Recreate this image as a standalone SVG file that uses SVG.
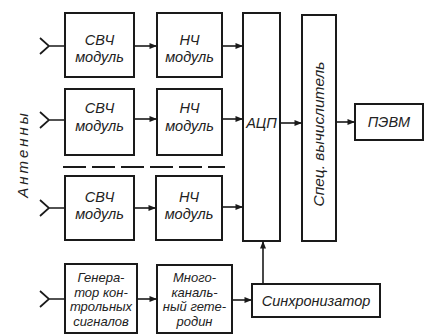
<svg xmlns="http://www.w3.org/2000/svg" width="439" height="335" viewBox="0 0 439 335">
<style>
.box{fill:none;stroke:#1a1a1a;stroke-width:2}
.t{font-family:"Liberation Sans",Arial,sans-serif;font-style:italic;fill:#222;text-anchor:middle}
.m{font-size:14.5px}
.s{font-size:13px}
.c{fill:none;stroke:#1a1a1a;stroke-width:1.7}
.ar{fill:none;stroke:#1a1a1a;stroke-width:1.6;marker-end:url(#ah)}
</style>
<defs>
<marker id="ah" viewBox="0 0 10 8" refX="10" refY="4" markerWidth="8" markerHeight="6" markerUnits="userSpaceOnUse" orient="auto">
<path d="M0,0 L10,4 L0,8 Z" fill="#1a1a1a"/>
</marker>
</defs>
<rect width="439" height="335" fill="#fff"/>
<g id="antennas">
<path class="c" d="M40,38 L49,46 L40,54 M49,46 H65"/>
<path class="c" d="M40,112 L49,120 L40,128 M49,120 H65"/>
<path class="c" d="M40,200 L49,208 L40,216 M49,208 H65"/>
<path class="c" d="M40,291 L49,299 L40,307 M49,299 H65"/>
<text class="t" font-size="15" letter-spacing="3" transform="translate(28,154) rotate(-90)">Антенны</text>
</g>
<g id="svch1"><rect class="box" x="65" y="13" width="69" height="64"/><text class="t m" x="99.5" y="45">СВЧ</text><text class="t m" x="99.5" y="62">модуль</text></g>
<g id="nch1"><rect class="box" x="157" y="13" width="65" height="64"/><text class="t m" x="189.5" y="45">НЧ</text><text class="t m" x="189.5" y="62">модуль</text></g>
<g id="svch2"><rect class="box" x="65" y="89" width="69" height="66"/><text class="t m" x="99.5" y="113">СВЧ</text><text class="t m" x="99.5" y="131">модуль</text></g>
<g id="nch2"><rect class="box" x="157" y="89" width="65" height="66"/><text class="t m" x="189.5" y="113">НЧ</text><text class="t m" x="189.5" y="131">модуль</text></g>
<line x1="63" y1="167" x2="225" y2="167" stroke="#1a1a1a" stroke-width="2" stroke-dasharray="23 6"/>
<g id="svch3"><rect class="box" x="65" y="176" width="69" height="64"/><text class="t m" x="99.5" y="202">СВЧ</text><text class="t m" x="99.5" y="219">модуль</text></g>
<g id="nch3"><rect class="box" x="156" y="176" width="66" height="64"/><text class="t m" x="189" y="202">НЧ</text><text class="t m" x="189" y="219">модуль</text></g>
<g id="adc"><rect class="box" x="243" y="13" width="37" height="228"/><text class="t m" x="261.5" y="128">АЦП</text></g>
<g id="calc"><rect class="box" x="302" y="15" width="34" height="226"/><text class="t" font-size="15.5" transform="translate(324,134) rotate(-90)">Спец. вычислитель</text></g>
<g id="pc"><rect class="box" x="355" y="104" width="68" height="36" stroke-width="2.6"/><text class="t m" x="389" y="127">ПЭВМ</text></g>
<g id="gen"><rect class="box" x="65" y="264" width="72" height="69"/>
<text class="t s" x="101" y="282">Генера-</text><text class="t s" x="101" y="296.5">тор кон-</text><text class="t s" x="101" y="311">трольных</text><text class="t s" x="101" y="325.5">сигналов</text></g>
<g id="het"><rect class="box" x="157" y="265" width="75" height="68"/>
<text class="t s" x="194.5" y="282">Много-</text><text class="t s" x="194.5" y="296.5">каналь-</text><text class="t s" x="194.5" y="311">ный гете-</text><text class="t s" x="194.5" y="325.5">родин</text></g>
<g id="sync"><rect class="box" x="252" y="284" width="128" height="33"/><text class="t m" x="316" y="306">Синхронизатор</text></g>
<g id="connectors">
<line class="ar" x1="134" y1="46" x2="157" y2="46"/>
<line class="ar" x1="222" y1="46" x2="243" y2="46"/>
<line class="ar" x1="134" y1="119" x2="157" y2="119"/>
<line class="ar" x1="222" y1="119" x2="243" y2="119"/>
<line class="ar" x1="134" y1="208" x2="156" y2="208"/>
<line class="ar" x1="222" y1="207" x2="243" y2="207"/>
<line class="ar" x1="280" y1="123" x2="302" y2="123"/>
<line class="ar" x1="336" y1="122" x2="355" y2="122"/>
<line class="ar" x1="137" y1="299" x2="157" y2="299"/>
<line class="ar" x1="232" y1="300" x2="252" y2="300"/>
<line class="ar" x1="263" y1="284" x2="263" y2="241"/>
</g>
</svg>
